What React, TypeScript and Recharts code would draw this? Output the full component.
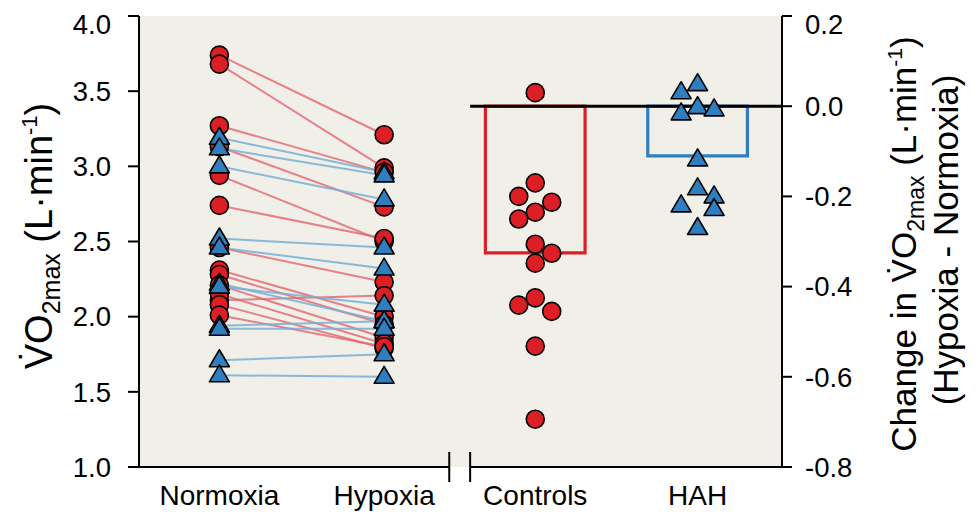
import React from 'react';
import { ComposedChart, Scatter, XAxis, YAxis, CartesianGrid, ReferenceLine, ReferenceArea } from 'recharts';

// group labels along the bottom
const categories = ['Normoxia', 'Hypoxia', 'Controls', 'HAH'];

// VO2max (L/min), one entry per subject, paired normoxia -> hypoxia
const ctrlNormoxia = [3.74, 3.68, 3.27, 3.13, 2.94, 2.74, 2.46, 2.31, 2.28, 2.21, 2.11, 2.15, 2.08, 2.01];
const ctrlHypoxia = [3.21, 2.99, 2.96, 2.73, 2.5, 2.52, 2.23, 2.0, 1.95, 1.86, 2.14, 1.82, 1.79, 1.8];
const hahNormoxia = [3.19, 3.12, 3.0, 2.52, 2.46, 2.22, 2.2, 1.94, 1.92, 1.71, 1.61];
const hahHypoxia = [2.96, 2.94, 2.78, 2.46, 2.32, 1.97, 2.08, 1.97, 1.92, 1.75, 1.6];

// change in VO2max (hypoxia - normoxia), right panel
const ctrlChange = [0.03, -0.17, -0.2, -0.213, -0.235, -0.25, -0.306, -0.326, -0.348, -0.425, -0.441, -0.455, -0.532, -0.694];
const hahChange = [0.049, 0.031, -0.002, -0.007, -0.016, -0.118, -0.182, -0.2, -0.22, -0.228, -0.27];
const groupMeans = [-0.325, -0.11];

const leftTicks = [1.0, 1.5, 2.0, 2.5, 3.0, 3.5, 4.0];
const rightTicks = [-0.8, -0.6, -0.4, -0.2, 0.0, 0.2];

// layout (x axis runs 0..8)
const X_POS = [1, 3.05, 4.93, 6.95];
const BREAK_L = 3.86;
const BREAK_R = 4.12;
const JIT = 0.205;
const BAR_HALF = 0.62;

const RED = '#dc1f24';
const BLUE = '#2f7fc0';
const RED_LINE = '#e4656f';
const BLUE_LINE = '#78aed6';

const W = 968;
const H = 503;

// simple beeswarm: push overlapping points left / right of the column
const swarm = (vals: number[], x0: number) => {
  const placed: { s: number; y: number }[] = [];
  let last = 1;
  return vals.map((v) => {
    const y = v * 451;
    const dist = (s: number) => Math.min(Infinity, ...placed.map((p) => Math.hypot((p.s - s) * 16.5, p.y - y)));
    let s = 0;
    if (dist(0) < 18) {
      const order = [-last, last];
      const ok = order.find((o) => dist(o) >= 18);
      s = ok !== undefined ? ok : dist(order[0]) >= dist(order[1]) ? order[0] : order[1];
      last = s;
    }
    placed.push({ s, y });
    return { x: x0 + s * JIT, y: v };
  });
};

const Dot = (props: any) => (
  <circle cx={props.cx} cy={props.cy} r={9} fill={RED} stroke="#000" strokeWidth={1.6} />
);

const Tri = (props: any) => {
  const { cx, cy } = props;
  return (
    <polygon
      points={`${cx},${cy - 10.5} ${cx - 10},${cy + 6.5} ${cx + 10},${cy + 6.5}`}
      fill={BLUE}
      stroke="#000"
      strokeWidth={1.6}
      strokeLinejoin="round"
    />
  );
};

const Nothing = () => <g />;

const LeftTitle = () => (
  <text transform="translate(44, 228) rotate(-90)" textAnchor="middle" fontSize={38} fill="#000">
    <tspan>V&#x307;O</tspan>
    <tspan fontSize={25} dy={8}>2max</tspan>
    <tspan dy={-8}> (L·min</tspan>
    <tspan fontSize={22} dy={-15}>-1</tspan>
    <tspan dy={15}>)</tspan>
  </text>
);

const RightTitle = () => (
  <g>
    <text transform="translate(908, 236) rotate(-90)" textAnchor="middle" fontSize={35} fill="#000">
      <tspan>Change in V&#x307;O</tspan>
      <tspan fontSize={23} dy={8}>2max</tspan>
      <tspan dy={-8}> (L·min</tspan>
      <tspan fontSize={21} dy={-14}>-1</tspan>
      <tspan dy={14}>)</tspan>
    </text>
    <text transform="translate(950, 232) rotate(-90)" textAnchor="middle" fontSize={35} fill="#000">
      (Hypoxia - Normoxia)
    </text>
  </g>
);

const App: React.FC = () => {
  const ctrlPoints = swarm(ctrlChange, X_POS[2]);
  const hahPoints = swarm(hahChange, X_POS[3]);
  const ctrlPairs = ctrlNormoxia.map((n, i) => [
    { x: X_POS[0], y: n },
    { x: X_POS[1], y: ctrlHypoxia[i] },
  ]);
  const hahPairs = hahNormoxia.map((n, i) => [
    { x: X_POS[0], y: n },
    { x: X_POS[1], y: hahHypoxia[i] },
  ]);
  const ctrlLeft = ctrlPairs.flat();
  const hahLeft = hahPairs.flat();

  return (
    <div style={{ fontFamily: '"Liberation Sans", Arial, sans-serif', width: W, height: H }}>
      <ComposedChart width={W} height={H} margin={{ top: 8, right: 0, bottom: 0, left: 0 }}>
        <CartesianGrid yAxisId="left" horizontal={false} vertical={false} fill="#f0efe8" />
        <XAxis
          type="number"
          dataKey="x"
          domain={[0, 8]}
          ticks={X_POS}
          tickFormatter={(v: number) => categories[X_POS.indexOf(v)] ?? ''}
          axisLine={false}
          tickLine={false}
          tickSize={0}
          tickMargin={18}
          height={44}
          interval={0}
          tick={{ fontSize: 28, fill: '#000' }}
          allowDataOverflow
        />
        <YAxis
          yAxisId="left"
          dataKey="y"
          type="number"
          domain={[1, 4]}
          ticks={leftTicks}
          tickFormatter={(v: number) => v.toFixed(1)}
          width={131}
          tickSize={11}
          tickMargin={17}
          axisLine={{ stroke: '#000', strokeWidth: 2 }}
          tickLine={{ stroke: '#000', strokeWidth: 2 }}
          tick={{ fontSize: 27.5, fill: '#000' }}
          label={<LeftTitle />}
          allowDataOverflow
        />
        <YAxis
          yAxisId="right"
          orientation="right"
          dataKey="y"
          type="number"
          domain={[-0.8, 0.2]}
          ticks={rightTicks}
          tickFormatter={(v: number) => v.toFixed(1)}
          width={194}
          tickSize={10}
          tickMargin={13}
          axisLine={{ stroke: '#000', strokeWidth: 2 }}
          tickLine={{ stroke: '#000', strokeWidth: 2 }}
          tick={{ fontSize: 27.5, fill: '#000', textAnchor: 'start' }}
          label={<RightTitle />}
          allowDataOverflow
        />

        {/* group means as open bars */}
        {groupMeans.map((m, i) => (
          <ReferenceArea
            key={'bar' + i}
            yAxisId="right"
            x1={X_POS[2 + i] - BAR_HALF}
            x2={X_POS[2 + i] + BAR_HALF}
            y1={m}
            y2={0}
            fill="none"
            fillOpacity={0}
            stroke={i === 0 ? RED : BLUE}
            strokeWidth={3.2}
            ifOverflow="visible"
          />
        ))}
        <ReferenceLine
          yAxisId="right"
          segment={[{ x: BREAK_R, y: 0 }, { x: 8, y: 0 }]}
          stroke="#000"
          strokeWidth={3}
        />

        {/* broken x axis */}
        <ReferenceLine yAxisId="left" segment={[{ x: 0, y: 1 }, { x: BREAK_L, y: 1 }]} stroke="#000" strokeWidth={2} ifOverflow="visible" />
        <ReferenceLine yAxisId="left" segment={[{ x: BREAK_R, y: 1 }, { x: 8, y: 1 }]} stroke="#000" strokeWidth={2} ifOverflow="visible" />
        <ReferenceLine yAxisId="left" segment={[{ x: BREAK_L, y: 0.9 }, { x: BREAK_L, y: 1.1 }]} stroke="#000" strokeWidth={2} ifOverflow="visible" />
        <ReferenceLine yAxisId="left" segment={[{ x: BREAK_R, y: 0.9 }, { x: BREAK_R, y: 1.1 }]} stroke="#000" strokeWidth={2} ifOverflow="visible" />

        {/* paired lines */}
        {ctrlPairs.map((d, i) => (
          <Scatter
            key={'cl' + i}
            yAxisId="left"
            data={d}
            line={{ stroke: RED_LINE, strokeWidth: 2, strokeOpacity: 0.8 }}
            shape={Nothing}
            isAnimationActive={false}
          />
        ))}
        {hahPairs.map((d, i) => (
          <Scatter
            key={'hl' + i}
            yAxisId="left"
            data={d}
            line={{ stroke: BLUE_LINE, strokeWidth: 2, strokeOpacity: 0.85 }}
            shape={Nothing}
            isAnimationActive={false}
          />
        ))}

        <Scatter yAxisId="left" data={ctrlLeft} shape={Dot} isAnimationActive={false} />
        <Scatter yAxisId="left" data={hahLeft} shape={Tri} isAnimationActive={false} />
        <Scatter yAxisId="right" data={ctrlPoints} shape={Dot} isAnimationActive={false} />
        <Scatter yAxisId="right" data={hahPoints} shape={Tri} isAnimationActive={false} />
      </ComposedChart>
    </div>
  );
};

export default App;
